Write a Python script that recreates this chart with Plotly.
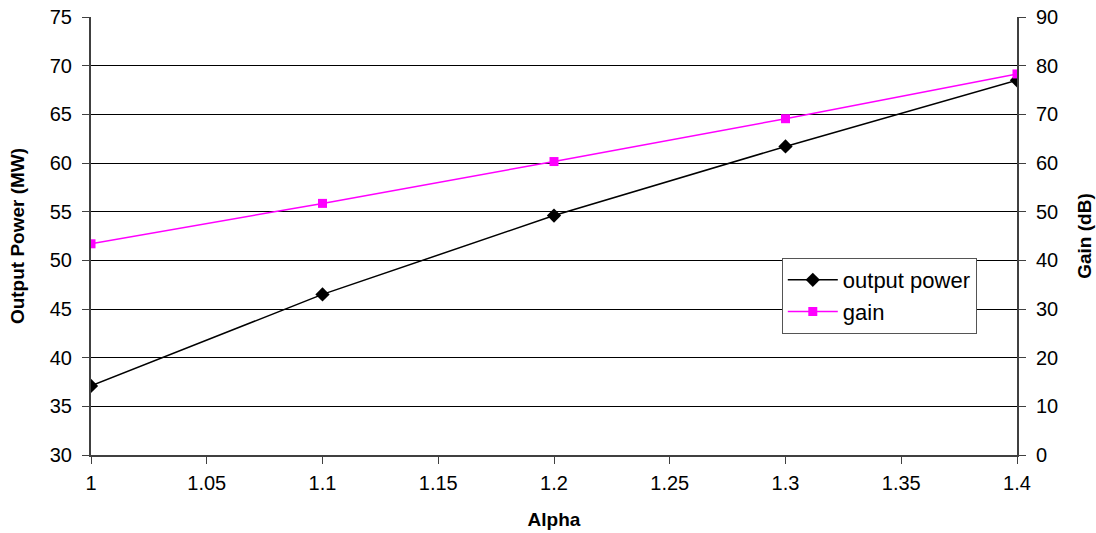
import plotly.graph_objects as go

alpha = [1.0, 1.1, 1.2, 1.3, 1.4]
output_power = [37.1, 46.5, 54.6, 61.7, 68.5]
gain = [43.4, 51.7, 60.3, 69.1, 78.3]

x_tick_vals = [1.0, 1.05, 1.1, 1.15, 1.2, 1.25, 1.3, 1.35, 1.4]
x_tick_text = ["1", "1.05", "1.1", "1.15", "1.2", "1.25", "1.3", "1.35", "1.4"]
left_ticks = [30, 35, 40, 45, 50, 55, 60, 65, 70, 75]
right_ticks = [0, 10, 20, 30, 40, 50, 60, 70, 80, 90]

FONT = "Liberation Sans, Arial, sans-serif"

fig = go.Figure()
fig.add_trace(go.Scatter(
    x=alpha, y=output_power, name="output power", mode="lines+markers",
    line=dict(color="#000000", width=1.5),
    marker=dict(symbol="diamond", size=11, color="#000000"),
    yaxis="y",
))
fig.add_trace(go.Scatter(
    x=alpha, y=gain, name="gain", mode="lines+markers",
    line=dict(color="#FF00FF", width=1.5),
    marker=dict(symbol="square", size=9, color="#FF00FF"),
    yaxis="y2",
))

fig.update_layout(
    width=1096, height=533,
    margin=dict(l=91, r=79, t=17, b=78, autoexpand=False),
    paper_bgcolor="white", plot_bgcolor="white",
    font=dict(family=FONT, size=20, color="#000000"),
    showlegend=True,
    legend=dict(
        x=0.746, y=0.4498, xanchor="left", yanchor="top",
        bgcolor="white", bordercolor="#555555", borderwidth=1,
        font=dict(family=FONT, size=22, color="#000000"),
        tracegroupgap=0, itemwidth=50,
    ),
    xaxis=dict(
        range=[1.0, 1.4], tickmode="array", tickvals=x_tick_vals, ticktext=x_tick_text,
        showgrid=False, zeroline=False,
        showline=True, linecolor="#404040", linewidth=2,
        ticks="outside", ticklen=7, tickcolor="#404040", tickwidth=1,
        ticklabelstandoff=2,
        tickfont=dict(family=FONT, size=20),
        title=dict(text="<b>Alpha</b>", font=dict(family=FONT, size=19), standoff=20),
    ),
    yaxis=dict(
        range=[30, 75], tickmode="array", tickvals=left_ticks,
        showgrid=True, gridcolor="#000000", gridwidth=1, zeroline=False,
        showline=True, linecolor="#404040", linewidth=2,
        ticks="outside", ticklen=7, tickcolor="#404040", tickwidth=1,
        ticklabelstandoff=6,
        tickfont=dict(family=FONT, size=20),
        title=dict(text="<b>Output Power (MW)</b>", font=dict(family=FONT, size=19), standoff=20),
    ),
    yaxis2=dict(
        range=[0, 90], tickmode="array", tickvals=right_ticks,
        overlaying="y", side="right",
        showgrid=False, zeroline=False,
        showline=True, linecolor="#404040", linewidth=2,
        ticks="outside", ticklen=7, tickcolor="#404040", tickwidth=1,
        ticklabelstandoff=6,
        tickfont=dict(family=FONT, size=20),
        title=dict(text="<b>Gain (dB)</b>", font=dict(family=FONT, size=19), standoff=20),
    ),
)

fig.write_html("out.html", config={"displayModeBar": False},
               post_script="document.body.style.margin='0';")
